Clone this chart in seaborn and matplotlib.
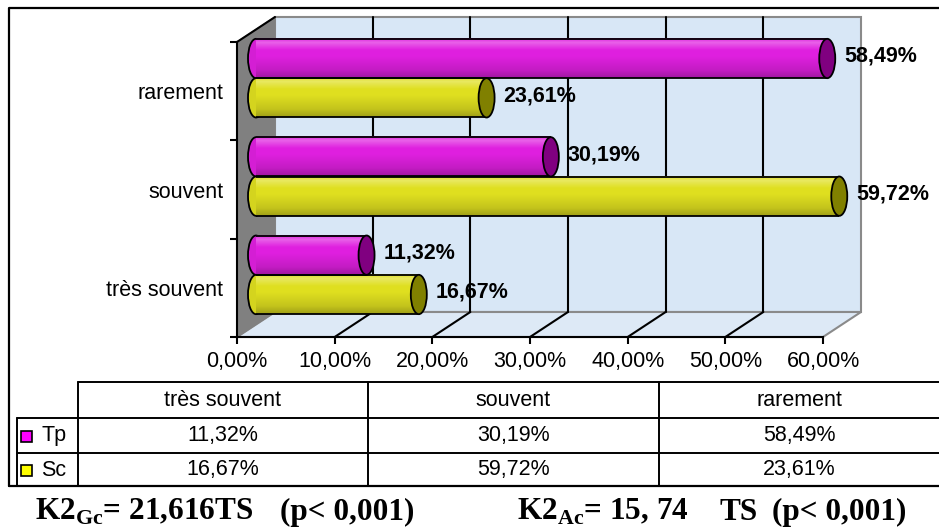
import numpy as np
import pandas as pd
import matplotlib
matplotlib.use("Agg")
import matplotlib.pyplot as plt
import seaborn as sns
from matplotlib.patches import Ellipse, Polygon, Rectangle
from matplotlib.colors import to_rgb

# data
niveaux = ["très souvent", "souvent", "rarement"]
tp_pct = [11.32, 30.19, 58.49]
sc_pct = [16.67, 59.72, 23.61]
groupes = ["Tp", "Sc"]
x_ticks = [0, 10, 20, 30, 40, 50, 60]
stats_parts = [r"K2$_{\mathrm{Gc}}$= 21,616TS", "(p< 0,001)",
               r"K2$_{\mathrm{Ac}}$= 15, 74", "TS", "(p< 0,001)"]

bar_colors = {"Tp": "#ff00ff", "Sc": "#ffff00"}
cap_colors = {"Tp": "#800080", "Sc": "#808000"}


def fmt(v):
    return f"{v:.2f}".replace(".", ",") + "%"


def cylinder_shade(rgb, n=64):
    t = np.linspace(0, 1, n)
    light = np.interp(t, [0, 0.1, 0.3, 1], [0.0, 0.3, 0.0, 0.0])
    dark = np.interp(t, [0, 0.45, 0.8, 1], [1.0, 1.0, 0.88, 0.72])
    c = np.array(rgb)[None, :] * dark[:, None]
    c = c + (1 - c) * light[:, None]
    return c[:, None, :]


sns.set_style("white")
plt.rcParams["font.family"] = ["Liberation Sans", "DejaVu Sans"]
plt.rcParams["text.color"] = "black"
plt.rcParams["xtick.color"] = "black"
plt.rcParams["ytick.color"] = "black"
plt.rcParams["mathtext.fontset"] = "custom"
plt.rcParams["mathtext.rm"] = "Liberation Serif:bold"
plt.rcParams["mathtext.bf"] = "Liberation Serif:bold"

FS = 15.5
W, H = 939, 531
fig = plt.figure(figsize=(W / 100, H / 100), dpi=100)

# page overlay in pixel coords (walls, table, footer)
page = fig.add_axes([0, 0, 1, 1])
page.set_xlim(0, W)
page.set_ylim(H, 0)
page.set_axis_off()
page.set_zorder(0)

# front plane of the 3D box: axis ticks and labels
front = fig.add_axes([237 / W, (H - 337) / H, 586 / W, 295 / H])
front.set_zorder(1)
front.patch.set_visible(False)
order = niveaux[::-1]
front.set_xlim(0, 60)
front.set_ylim(2.5, -0.5)
front.set_xticks(x_ticks, labels=[fmt(v) for v in x_ticks])
front.set_yticks(range(len(order)), labels=order)
front.set_yticks([-0.5, 0.5, 1.5, 2.5], minor=True)
front.tick_params(axis="x", length=5, width=1.5, pad=5, labelsize=FS, direction="out", bottom=True)
front.tick_params(axis="y", which="major", length=0, pad=10, labelsize=FS)
front.tick_params(axis="y", which="minor", length=5, width=1.5, direction="out", left=True)
for side in ["top", "right"]:
    front.spines[side].set_visible(False)
for side in ["left", "bottom"]:
    front.spines[side].set_linewidth(1.5)
    front.spines[side].set_color("black")

# bar plane, pushed back into the box
ax = fig.add_axes([256 / W, (H - 324) / H, 586 / W, 295 / H])
ax.set_zorder(2)
ax.patch.set_visible(False)

df = pd.DataFrame({
    "niveau": niveaux * 2,
    "groupe": ["Tp"] * len(niveaux) + ["Sc"] * len(niveaux),
    "pct": tp_pct + sc_pct,
})
sns.barplot(data=df, y="niveau", x="pct", hue="groupe", order=order,
            hue_order=groupes, palette=bar_colors, width=0.8, orient="h",
            errorbar=None, legend=False, linewidth=0, ax=ax)
ax.set_xlim(0, 60)
ax.set_ylim(2.5, -0.5)
ax.set_axis_off()

cap_w = 16 * 60 / 586
rgb_to_group = {to_rgb(c): g for g, c in bar_colors.items()}
for p in list(ax.patches):
    x0, y0, w, h = p.get_x(), p.get_y(), p.get_width(), p.get_height()
    base = to_rgb(p.get_facecolor()[:3])
    g = min(rgb_to_group.items(), key=lambda kv: sum((a - b) ** 2 for a, b in zip(kv[0], base)))[1]
    yc = y0 + h / 2
    ax.add_patch(Ellipse((x0, yc), cap_w, h, facecolor=np.array(base) * 0.95,
                         edgecolor="black", lw=1.3, zorder=2, clip_on=False))
    ax.imshow(cylinder_shade(base), extent=(x0, x0 + w, y0 + h, y0),
              aspect="auto", zorder=3, interpolation="bilinear")
    ax.plot([x0, x0 + w], [y0, y0], color="black", lw=1.3, zorder=4, solid_capstyle="butt")
    ax.plot([x0, x0 + w], [y0 + h, y0 + h], color="black", lw=1.3, zorder=4, solid_capstyle="butt")
    ax.add_patch(Ellipse((x0 + w, yc), cap_w, h, facecolor=cap_colors[g],
                         edgecolor="black", lw=1.3, zorder=5, clip_on=False))
    ax.annotate(fmt(w), xy=(x0 + w, yc), xytext=(12, 1.5), textcoords="offset points",
                ha="left", va="center", fontsize=FS, fontweight="bold", zorder=6,
                annotation_clip=False)
ax.set_xlim(0, 60)
ax.set_ylim(2.5, -0.5)


def to_page(axes, x, y):
    X, Y = axes.transData.transform((x, y))
    return X, H - Y


# 3D box walls
dx, dy = 38, -25
fx0, fyb = to_page(front, 0, 2.5)
fx1, fyt = to_page(front, 60, -0.5)
page.add_patch(Polygon([(fx0 + dx, fyt + dy), (fx1 + dx, fyt + dy), (fx1 + dx, fyb + dy),
                        (fx0 + dx, fyb + dy)], closed=True, facecolor="#d8e7f6",
                       edgecolor="#8a8a8a", lw=1.5, zorder=1))
page.add_patch(Polygon([(fx0, fyb), (fx0 + dx, fyb + dy), (fx1 + dx, fyb + dy), (fx1, fyb)],
                       closed=True, facecolor="#dde9f6", edgecolor="#8a8a8a", lw=1.5, zorder=1))
page.add_patch(Polygon([(fx0, fyt), (fx0 + dx, fyt + dy), (fx0 + dx, fyb + dy), (fx0, fyb)],
                       closed=True, facecolor="#808080", edgecolor="#808080", lw=1, zorder=2))
page.plot([fx0, fx0 + dx], [fyt, fyt + dy], color="black", lw=1.5, zorder=3)
for t in x_ticks[1:-1]:
    xp, _ = to_page(front, t, 2.5)
    page.plot([xp + dx, xp + dx], [fyt + dy, fyb + dy], color="black", lw=1.5, zorder=2)
    page.plot([xp, xp + dx], [fyb, fyb + dy], color="black", lw=1.5, zorder=2)

# outer frame
page.plot([9, 9, W], [486, 8, 8], color="black", lw=1.6, zorder=3)
page.plot([9, W], [486, 486], color="black", lw=1.6, zorder=3)

# data table
col_edges = [78, 368, 659, W]
page.plot([78, W], [382, 382], color="black", lw=1.4)
page.plot([17, W], [418, 418], color="black", lw=1.4)
page.plot([17, W], [453, 453], color="black", lw=1.4)
page.plot([17, 17], [418, 486], color="black", lw=1.4)
for xe in col_edges[:-1]:
    page.plot([xe, xe], [382, 486], color="black", lw=1.4)
row_y = [436, 470]
for i, name in enumerate(niveaux):
    cx = (col_edges[i] + col_edges[i + 1]) / 2
    page.text(cx, 400, name, ha="center", va="center", fontsize=FS)
    page.text(cx, row_y[0], fmt(tp_pct[i]), ha="center", va="center", fontsize=FS)
    page.text(cx, row_y[1], fmt(sc_pct[i]), ha="center", va="center", fontsize=FS)
for g, yy in zip(groupes, row_y):
    page.add_patch(Rectangle((21, yy - 5), 11, 11, facecolor=bar_colors[g],
                             edgecolor="black", lw=1.2))
    page.text(41, yy, g, ha="left", va="center", fontsize=FS)

# footer statistics
for s, xs in zip(stats_parts, [35, 280, 517, 719, 772]):
    page.text(xs, 520, s, ha="left", va="baseline", fontsize=22.5,
              fontfamily="Liberation Serif", fontweight="bold")

fig.savefig("out.png", dpi=100)
